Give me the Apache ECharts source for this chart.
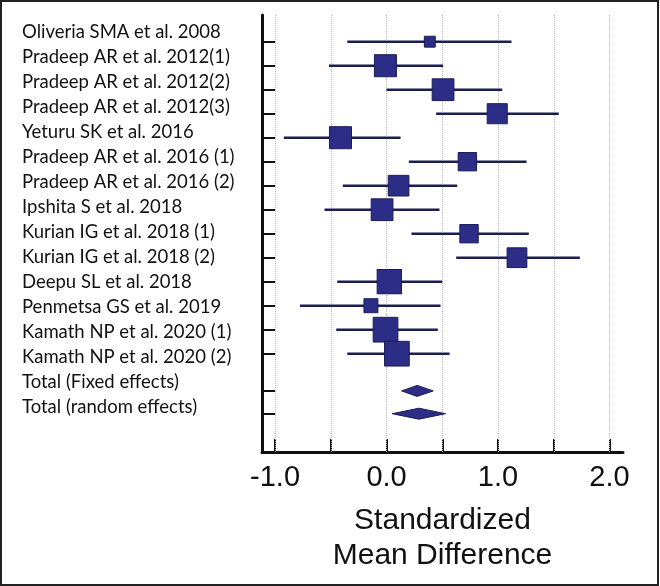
<!DOCTYPE html>
<html>
<head>
<meta charset="utf-8">
<script src="https://cdn.jsdelivr.net/npm/echarts@6/dist/echarts.min.js"></script>
<style>
html,body{margin:0;padding:0;background:#fff;}
#chart{width:660px;height:586px;}
</style>
</head>
<body>
<div id="chart"></div>
<script>
// ---- data ----
const studies = [
  'Oliveria SMA et al. 2008',
  'Pradeep AR et al. 2012(1)',
  'Pradeep AR et al. 2012(2)',
  'Pradeep AR et al. 2012(3)',
  'Yeturu SK et al. 2016',
  'Pradeep AR et al. 2016 (1)',
  'Pradeep AR et al. 2016 (2)',
  'Ipshita S et al. 2018',
  'Kurian IG et al. 2018 (1)',
  'Kurian IG et al. 2018 (2)',
  'Deepu SL et al. 2018',
  'Penmetsa GS et al. 2019',
  'Kamath NP et al. 2020 (1)',
  'Kamath NP et al. 2020 (2)'
];
const smd      = [0.388, -0.010, 0.507, 0.993, -0.413, 0.725, 0.108, -0.040, 0.740, 1.170, 0.025, -0.140, -0.009, 0.093];
const ciLower  = [-0.352, -0.516, 0.000, 0.445, -0.921, 0.200, -0.392, -0.556, 0.224, 0.625, -0.442, -0.777, -0.451, -0.352];
const ciUpper  = [1.121, 0.508, 1.038, 1.545, 0.126, 1.256, 0.634, 0.475, 1.276, 1.734, 0.500, 0.484, 0.460, 0.565];
const weights  = [2.0, 8.2, 8.0, 6.8, 8.2, 5.7, 7.2, 8.0, 5.7, 6.6, 10.0, 3.3, 10.3, 10.3];

const totalNames = ['Total (Fixed effects)', 'Total (random effects)'];
const totalSmd   = [0.275, 0.290];
const totalLower = [0.135, 0.051];
const totalUpper = [0.419, 0.529];

const xTickValues  = [-1, -0.5, 0, 0.5, 1, 1.5, 2];
const xLabelValues = [-1, 0, 1, 2];
const axisTitle = 'Standardized\nMean Difference';

// ---- layout helpers ----
const studyRows = studies.map((_, i) => i + 1);
const totalRows = [15.55, 16.5];
const allLabels = studies.concat(totalNames);

const navy = '#2b2d86';
const navyDark = '#1c1d55';

const ciData = studies.map((_, i) => [ciLower[i], ciUpper[i], studyRows[i]]);
const boxData = studies.map((_, i) => [smd[i], studyRows[i], weights[i]]);
const diamondData = totalNames.map((_, i) => [totalLower[i], totalSmd[i], totalUpper[i], totalRows[i]]);

const chart = echarts.init(document.getElementById('chart'), null, {renderer: 'canvas'});
chart.setOption({
  animation: false,
  backgroundColor: '#fff',
  graphic: [{
    type: 'rect', shape: {x: 1, y: 1, width: 657, height: 584},
    style: {fill: 'none', stroke: '#222', lineWidth: 2}, silent: true
  }],
  grid: [
    {left: 262, top: 15, width: 361, height: 437},
    {left: 262, top: 19.2, width: 361, height: 400}
  ],
  xAxis: [{
    gridIndex: 0,
    type: 'value',
    min: -1.117, max: 2.121,
    axisLine: {show: true, onZero: false, lineStyle: {color: '#111', width: 3}},
    axisTick: {show: true, inside: true, length: 13, customValues: xTickValues, lineStyle: {color: '#111', width: 2}},
    axisLabel: {
      show: true, customValues: xLabelValues, margin: 11,
      formatter: v => Number(v).toFixed(1),
      fontFamily: 'Liberation Sans', fontSize: 29, color: '#111'
    },
    splitLine: {show: false},
    name: axisTitle, nameLocation: 'middle', nameGap: 51,
    nameTextStyle: {fontFamily: 'Liberation Sans', fontSize: 30, color: '#111', lineHeight: 35}
  }, {
    gridIndex: 1, type: 'value', show: false, min: 0, max: 1
  }],
  yAxis: [{
    gridIndex: 0,
    type: 'value', inverse: true,
    min: -0.1125, max: 18.096,
    axisLine: {show: true, onZero: false, lineStyle: {color: '#111', width: 3}},
    axisTick: {show: true, inside: true, length: 13, customValues: studyRows.concat(totalRows), lineStyle: {color: '#111', width: 2}},
    axisLabel: {show: false},
    splitLine: {show: false}
  }, {
    gridIndex: 1,
    type: 'category', inverse: true,
    data: allLabels,
    axisLine: {show: false}, axisTick: {show: false}, splitLine: {show: false},
    axisLabel: {align: 'left', margin: 240, fontFamily: 'Lato', fontSize: 18.5, color: '#111'}
  }],
  series: [
    {
      type: 'custom', name: 'CI', xAxisIndex: 0, yAxisIndex: 0,
      data: ciData,
      encode: {x: [0, 1], y: 2},
      z: 3,
      renderItem: (params, api) => {
        const a = api.coord([api.value(0), api.value(2)]);
        const b = api.coord([api.value(1), api.value(2)]);
        return {type: 'line', shape: {x1: a[0], y1: a[1], x2: b[0], y2: b[1]},
          style: {stroke: navyDark, lineWidth: 2.6}};
      },
      markLine: {
        silent: true, symbol: 'none', z: 1,
        label: {show: false},
        lineStyle: {type: 'dotted', color: '#b8b8b8', width: 1},
        data: xTickValues.map(v => ({xAxis: v}))
      }
    },
    {
      type: 'scatter', name: 'SMD', xAxisIndex: 0, yAxisIndex: 0,
      data: boxData,
      symbol: 'rect',
      symbolSize: d => Math.sqrt(d[2]) * 7.7,
      itemStyle: {color: navy, borderColor: navyDark, borderWidth: 1, opacity: 1},
      z: 4
    },
    {
      type: 'custom', name: 'Totals', xAxisIndex: 0, yAxisIndex: 0,
      data: diamondData,
      encode: {x: [0, 2], y: 3},
      z: 4,
      renderItem: (params, api) => {
        const y = api.value(3);
        const l = api.coord([api.value(0), y]);
        const m = api.coord([api.value(1), y]);
        const r = api.coord([api.value(2), y]);
        const h = 5.5;
        return {type: 'polygon',
          shape: {points: [[l[0], l[1]], [m[0], m[1] - h], [r[0], r[1]], [m[0], m[1] + h]]},
          style: {fill: navy, stroke: navyDark, lineWidth: 1}};
      }
    }
  ]
});
</script>
</body>
</html>
